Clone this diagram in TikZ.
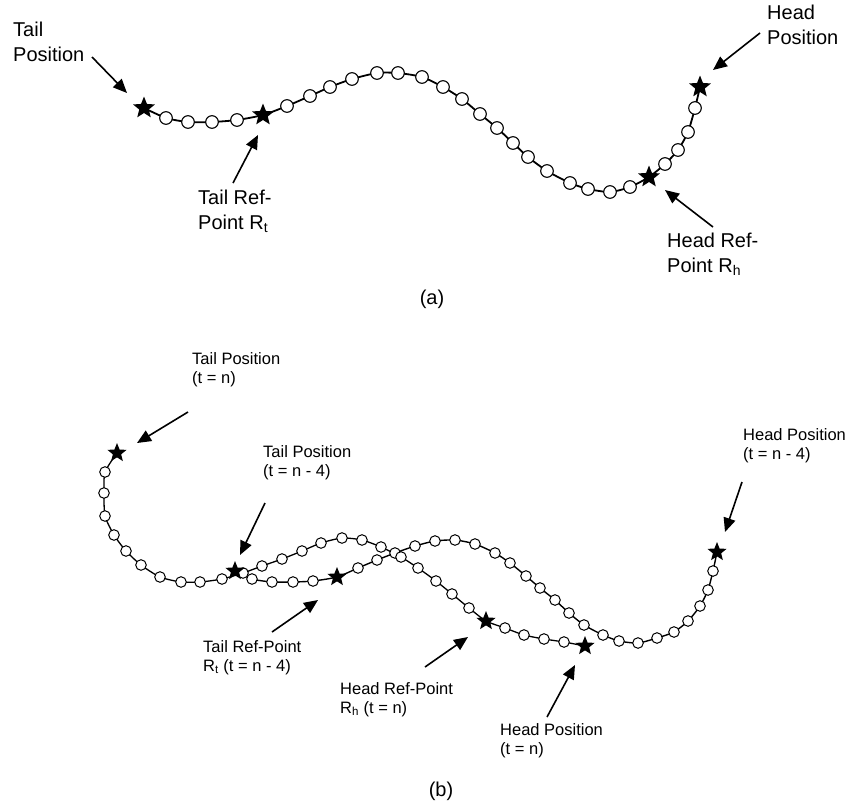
\documentclass[tikz,border=0pt]{standalone}
\usepackage{fontspec}
\setmainfont{Liberation Sans}
\usetikzlibrary{shapes.geometric,arrows.meta}
\begin{document}
\begin{tikzpicture}[x=1pt,y=-1pt]
\tikzset{
 bead/.style={draw=black, fill=white, line width=1.1pt},
 snakeline/.style={line width=1.8pt, line join=round},
 starA/.style={shape=star, star points=5, star point ratio=2.3, fill=black, inner sep=0pt, minimum size=23pt},
 starB/.style={starA, minimum size=20pt},
 lblA/.style={inner sep=0pt, anchor=north west, align=left, font=\fontsize{20}{25}\selectfont},
 lblB/.style={inner sep=0pt, anchor=north west, align=left, font=\fontsize{16.5}{19}\selectfont},
 capt/.style={inner sep=0pt, font=\fontsize{20}{25}\selectfont},
 pointer/.style={line width=1.6pt, -{Triangle[length=14pt,width=12pt]}},
}
\useasboundingbox (0,0) rectangle (848,803);

% ---------------- (a) ----------------
\draw[snakeline] plot[smooth, tension=0.4] coordinates {
(144,108) (166,118) (188,122) (212,122) (237,120) (263,115) (287,106) (310,96) (330,87) (352,79) (377,73) (398,73) (422,77) (443,87) (462,99) (480,114) (497,128) (513,143) (528,157) (547,171) (570,183) (588,189) (610,192) (630,187) (649,177) (665,164) (678,150) (688,132) (695,108) (700,87)};
\foreach \x/\y in {166/118,188/122,212/122,237/120,287/106,310/96,330/87,352/79,377/73,398/73,422/77,443/87,462/99,480/114,497/128,513/143,528/157,547/171,570/183,588/189,610/192,630/187,665/164,678/150,688/132,695/108}
  \draw[bead] (\x,\y) circle[radius=6.3];
\node[starA] (aT) at (144,108) {};
\node[starA] (aRt) at (263,115) {};
\node[starA] (aRh) at (649,177) {};
\node[starA] (aH) at (700,87) {};

\node[lblA] (aTlab) at (13,22) {Tail\\Position};
\node[lblA] (aRtlab) at (198,190) {Tail Ref-\\Point R\textsubscript{t}};
\node[lblA] (aHlab) at (767,5) {Head\\Position};
\node[lblA] (aRhlab) at (667,233) {Head Ref-\\Point R\textsubscript{h}};
\node[capt] (acap) at (432,299) {(a)};

\coordinate (a1s) at (92,57);   \coordinate (a1e) at (127,93);
\coordinate (a2s) at (233,183); \coordinate (a2e) at (258,135);
\coordinate (a3s) at (760,33);  \coordinate (a3e) at (713,70);
\coordinate (a4s) at (713,227); \coordinate (a4e) at (665,190);
\draw[pointer] (a1s) -- (a1e);
\draw[pointer] (a2s) -- (a2e);
\draw[pointer] (a3s) -- (a3e);
\draw[pointer] (a4s) -- (a4e);

% ---------------- (b) ----------------
% curve at t = n - 4
\draw[snakeline, line width=1.4pt] plot[smooth, tension=0.4] coordinates {
(235,571) (252,579) (272,582) (293,582) (313,581) (337,577) (358,568) (377,560) (395,553) (415,546) (435,541) (455,540) (475,544) (495,553) (510,563) (526,576) (540,588) (555,600) (569,613) (584,625) (603,635) (619,641) (638,643) (657,638) (674,632) (688,621) (700,606) (708,590) (713,571) (717,552)};
% curve at t = n
\draw[snakeline, line width=1.3pt] plot[smooth, tension=0.4] coordinates {
(117,453) (105,472) (104,493) (105,516) (114,535) (126,551) (141,565) (160,577) (181,582) (200,582) (222,579) (243,573) (262,566) (282,559) (302,551) (321,543) (342,538) (362,540) (381,547) (401,557) (418,568) (436,581) (452,594) (469,608) (486,621) (505,628) (524,635) (544,639) (564,642) (585,646)};
\foreach \x/\y in {252/579,272/582,293/582,313/581,358/568,377/560,395/553,415/546,435/541,455/540,475/544,495/553,510/563,526/576,540/588,555/600,569/613,584/625,603/635,619/641,638/643,657/638,674/632,688/621,700/606,708/590,713/571,
105/472,104/493,105/516,114/535,126/551,141/565,160/577,181/582,200/582,222/579,243/573,262/566,282/559,302/551,321/543,342/538,362/540,381/547,401/557,418/568,436/581,452/594,469/608,505/628,524/635,544/639,564/642}
  \draw[bead, line width=1pt] (\x,\y) circle[radius=5.3];
\node[starB] (bT4) at (235,571) {};
\node[starB] (bRt4) at (337,577) {};
\node[starB] (bH4) at (717,552) {};
\node[starB] (bTn) at (117,453) {};
\node[starB] (bRhn) at (486,621) {};
\node[starB] (bHn) at (585,646) {};

\node[lblB] (bTnlab) at (192,352) {Tail Position\\(t = n)};
\node[lblB] (bT4lab) at (263,445) {Tail Position\\(t = n - 4)};
\node[lblB] (bH4lab) at (743,428) {Head Position\\(t = n - 4)};
\node[lblB] (bRtlab) at (203,640) {Tail Ref-Point\\R\textsubscript{t} (t = n - 4)};
\node[lblB] (bRhlab) at (340,682) {Head Ref-Point\\R\textsubscript{h} (t = n)};
\node[lblB] (bHnlab) at (500,723) {Head Position\\(t = n)};
\node[capt] (bcap) at (441,791) {(b)};

\coordinate (b1s) at (188,412); \coordinate (b1e) at (137,443);
\coordinate (b2s) at (265,503); \coordinate (b2e) at (240,555);
\coordinate (b3s) at (742,482); \coordinate (b3e) at (725,532);
\coordinate (b4s) at (272,632); \coordinate (b4e) at (318,600);
\coordinate (b5s) at (425,667); \coordinate (b5e) at (468,637);
\coordinate (b6s) at (547,717); \coordinate (b6e) at (575,665);
\draw[pointer] (b1s) -- (b1e);
\draw[pointer] (b2s) -- (b2e);
\draw[pointer] (b3s) -- (b3e);
\draw[pointer] (b4s) -- (b4e);
\draw[pointer] (b5s) -- (b5e);
\draw[pointer] (b6s) -- (b6e);
\end{tikzpicture}
\end{document}
